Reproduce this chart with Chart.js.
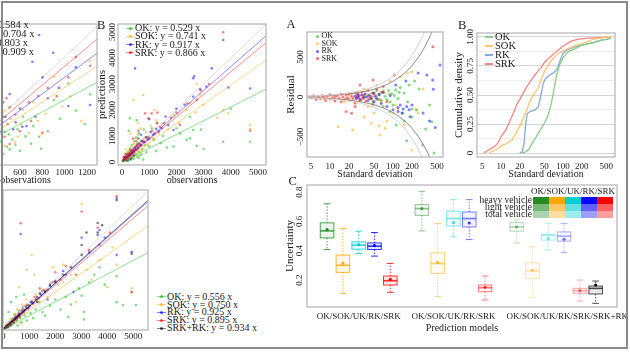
<!DOCTYPE html>
<html>
<head>
<meta charset="utf-8">
<title>Observations, residuals and uncertainty</title>
<script src="https://cdn.jsdelivr.net/npm/chart.js@4.4.1/dist/chart.umd.min.js"></script>
<style>
  html, body { margin: 0; padding: 0; background: #fff; }
  #page { position: relative; width: 630px; height: 354px; overflow: hidden; background: #fff;
    font-family: "Liberation Serif", "Times New Roman", serif; color: #1a1a1a; }
  #page canvas { position: absolute; }
  .lbl { position: absolute; white-space: nowrap; }
  .sw { position: absolute; }
  #border { position: absolute; left: 1px; top: 1px; width: 623px; height: 344px; border: 2px solid #8a8a8a; }
</style>
</head>
<body>
<div id="page">
  <canvas id="topLeft"></canvas>
  <canvas id="scatterB"></canvas>
  <canvas id="bottomLeft"></canvas>
  <canvas id="residualA"></canvas>
  <canvas id="cumulativeB"></canvas>
  <canvas id="boxC"></canvas>
</div>
<script>
// ---------- values ----------

// cropped top-left panel (observations / predictions)
const topLeftSlopes = [0.584, 0.704, 0.803, 0.909];
const topLeftTicks = [600, 800, 1000, 1200];
const topLeftOK = [[463,275],[484,130],[508,104],[450,60],[530,200],[560,150],[600,90],[628,420],[650,230],[700,160],[720,330],[772,227],[790,110],[850,280],[904,582],[960,400],[1033,743],[1100,480],[1180,350],[1228,637],[430,180],[500,250],[580,300]];
const topLeftSOK = [[440,320],[463,136],[520,400],[553,178],[583,227],[610,340],[628,485],[680,260],[720,560],[793,253],[830,450],[907,808],[980,520],[1050,620],[1228,960],[1150,380],[460,480],[760,380]];
const topLeftRK = [[433,275],[470,420],[508,640],[540,300],[562,366],[600,500],[622,324],[658,330],[712,953],[740,420],[772,1212],[802,802],[850,600],[898,1041],[1033,524],[1228,534],[950,700],[1100,900],[450,560]];
const topLeftSRK = [[448,420],[463,227],[490,350],[508,156],[508,511],[560,440],[600,280],[680,560],[763,621],[802,266],[850,700],[930,620],[1033,802],[1228,915],[1100,1000],[700,380],[480,600]];

// panel B, left half
const scatterNames = ['OK', 'SOK', 'RK', 'SRK'];
const scatterSlopes = [0.529, 0.741, 0.917, 0.866];
const scatterTicks = [0, 1000, 2000, 3000, 4000, 5000];
const scatterOK = [[60,40],[100,150],[150,60],[180,250],[200,120],[230,380],[260,200],[280,90],[300,520],[320,300],[350,180],[380,650],[400,420],[420,250],[450,800],[480,560],[500,330],[520,950],[560,700],[600,400],[620,1100],[650,250],[700,820],[750,500],[800,1250],[850,640],[900,380],[970,970],[1000,600],[1100,1300],[1170,850],[1250,420],[1420,720],[1500,1000],[1650,560],[1890,590],[2000,1300],[2130,1100],[2380,850],[2500,910],[2500,1740],[2620,1230],[2750,620],[2900,1250],[3720,780],[4000,2050],[4710,780],[3000,500],[1300,1500],[250,1200],[290,1680],[540,1610],[130,320],[210,40],[340,90],[430,130],[560,210],[610,160],[720,300],[780,90]];
const scatterSOK = [[50,80],[90,30],[120,200],[160,120],[200,350],[240,180],[270,450],[300,260],[330,600],[360,380],[400,150],[420,2390],[440,700],[470,480],[500,900],[530,300],[580,1050],[620,620],[680,1300],[720,450],[780,2580],[800,900],[880,1150],[950,650],[1050,1400],[1150,900],[1250,1600],[1350,1100],[1500,1450],[1700,1250],[1900,1800],[2100,1500],[2380,2000],[2500,2260],[2700,1900],[2870,2600],[3000,2200],[3720,2000],[3910,1870],[3500,1700],[4710,1420],[4710,1270],[2750,3000],[1200,2000],[600,1500],[300,1100],[180,60],[260,330],[380,240],[520,610],[650,380],[150,480]];
const scatterRK = [[40,60],[80,120],[120,90],[150,200],[190,160],[220,280],[250,220],[280,330],[310,250],[340,400],[370,320],[400,460],[430,380],[460,540],[480,3600],[500,460],[540,620],[580,520],[620,700],[680,640],[730,800],[800,760],[880,950],[950,880],[1050,1150],[1150,1050],[1250,1280],[1350,1180],[1460,1300],[1700,1420],[1890,1230],[2000,2050],[2300,2200],[2620,2510],[2620,3220],[2650,3300],[2870,2800],[3100,2900],[3720,4690],[3910,2870],[4710,2830],[3300,3600],[1600,1750],[1000,1650],[700,1050],[90,210],[200,60],[330,130],[450,240],[600,900]];
const scatterSRK = [[30,50],[70,90],[100,140],[130,110],[170,220],[200,180],[230,300],[260,240],[290,350],[320,280],[350,420],[380,360],[420,500],[450,410],[490,580],[520,470],[560,650],[600,560],[650,720],[700,640],[760,820],[850,1870],[970,1680],[1090,1870],[820,780],[900,960],[1000,900],[1100,1200],[1200,1100],[1280,1490],[1400,1350],[1550,1500],[1800,1700],[2130,1420],[2400,2250],[2750,2390],[2900,2750],[3200,3000],[3720,4990],[4710,1200],[1300,1900],[600,1200],[400,900],[2000,1900],[60,180],[150,300],[240,120],[310,470],[410,280],[530,790]];

// bottom-left panel
const bottomNames = ['OK', 'SOK', 'RK', 'SRK', 'SRK+RK'];
const bottomSlopes = [0.556, 0.750, 0.925, 0.895, 0.934];
const bottomOK = [[60,40],[120,180],[180,80],[240,300],[300,150],[350,450],[400,250],[450,600],[500,350],[550,150],[600,750],[650,450],[700,280],[760,900],[820,560],[900,350],[950,1000],[1050,650],[1150,450],[1250,800],[1350,1100],[1500,700],[1600,550],[1800,950],[2000,1200],[2200,800],[2400,1300],[2600,1000],[2900,1650],[3015,1350],[3100,700],[3300,1900],[3500,2200],[3700,2500],[3900,1800],[4360,2137],[4360,1095],[4600,980],[5100,980],[3100,400],[2500,500],[300,1100],[500,1300],[200,700],[800,1400]];
const bottomSOK = [[80,60],[150,250],[220,120],[280,400],[350,220],[420,600],[480,350],[540,800],[600,500],[660,250],[720,1000],[800,650],[880,1200],[950,800],[1092,2996],[1150,1000],[1250,1400],[1400,1100],[1550,1600],[1700,1300],[1900,2500],[2100,1800],[2300,2600],[2300,1900],[2600,2200],[2800,1100],[3015,5052],[3200,2400],[3400,2000],[3700,2800],[4000,1700],[4200,3300],[4360,2600],[4938,1650],[4938,1500],[600,1700],[1200,2200],[900,2400]];
const bottomRK = [[50,30],[100,110],[160,80],[210,200],[270,160],[330,320],[390,260],[450,470],[510,400],[570,600],[630,520],[670,3843],[700,760],[780,700],[860,930],[950,850],[1050,1100],[1150,1050],[1300,1300],[1450,1400],[1600,1550],[1800,1750],[2000,1900],[2300,2350],[2700,1500],[3015,3700],[3300,3100],[3630,3800],[3700,4000],[3900,3700],[4360,5290],[4360,3000],[4938,3129],[1700,1200],[2400,2200]];
const bottomSRK = [[40,50],[90,70],[140,160],[190,130],[250,260],[300,220],[360,380],[420,330],[480,520],[540,460],[600,660],[670,4274],[660,600],[740,820],[820,760],[900,980],[1000,900],[1100,1150],[1200,1300],[1350,1250],[1500,1550],[1700,1600],[1900,1900],[2200,2000],[2400,2550],[2800,2200],[3015,4750],[3300,3200],[3630,4100],[3700,3400],[4100,3900],[4360,5375],[4938,1500],[1400,1650],[2000,2300]];
const bottomSRKRK = [[30,20],[80,60],[130,100],[180,150],[230,200],[280,240],[330,300],[380,330],[430,400],[480,440],[530,500],[580,540],[630,600],[700,650],[760,720],[830,780],[900,860],[1000,950],[1100,1080],[1250,1200],[1400,1450],[1600,1500],[1800,1800],[2000,1950],[2300,2200],[2600,2500],[3015,3400],[3015,3000],[3200,3900],[3630,4285],[3630,3900],[3800,4200],[4360,5210],[4938,3050],[1300,1100]];

// panel A: residual against standard deviation
const sdTicks = [5, 10, 20, 50, 100, 200, 500];
const residualTicks = [-500, 0, 500];
const envelopeSd = [4.3, 5, 6, 7, 8, 10, 12, 15, 20, 25, 30, 40, 50, 60, 70, 85, 100, 120, 150, 180, 200, 250, 300, 350, 400, 450];
const envelopeInner = [8.4, 9.8, 11.8, 13.7, 15.7, 19.6, 23.5, 29.4, 39.2, 49, 58.8, 78.4, 98, 117.6, 137.2, 166.6, 196, 235.2, 294, 352.8, 392, 490, 588, 686, 784, 882];
const envelopeOuter = [11.1, 12.9, 15.5, 18.1, 20.6, 25.8, 31, 38.7, 51.6, 64.5, 77.4, 103.2, 129, 154.8, 180.6, 219.3, 258, 309.6, 387, 464.4, 516, 645, 774, 903, 1032, 1161];
const residualOK = [[35,0],[40,20],[45,-20],[50,50],[55,-10],[60,30],[65,-40],[70,60],[75,10],[80,-30],[85,80],[90,-60],[95,40],[100,-100],[110,90],[112,-350],[120,-20],[130,120],[140,-200],[150,50],[165,-546],[180,150],[200,-150],[237,-162],[260,100],[296,-600],[330,-400],[380,-100],[411,-309],[450,-700],[150,-300],[200,-250],[90,-180],[70,-120],[55,80],[48,-60],[105,20],[125,60],[170,-60],[220,200]];
const residualSOK = [[8,-20],[10,15],[12,-30],[13.5,-371],[15,40],[17,-60],[20,30],[23,-412],[25,-80],[28,60],[30,-30],[35,100],[40,-120],[45,50],[50,-200],[55,150],[62,-475],[70,80],[80,-300],[90,200],[101,-204],[110,-100],[130,250],[150,-350],[198,316],[198,-662],[250,-200],[300,100],[35,-250],[45,-330],[60,-360],[75,-390],[18,-20],[22,40],[26,-10],[33,20],[40,30],[48,-40],[55,10],[65,-60],[85,40],[120,-150],[170,300],[230,-150]];
const residualRK = [[25,10],[26,-20],[27,30],[28,-5],[29,15],[30,-30],[32,25],[34,-10],[36,40],[38,0],[40,-45],[42,20],[45,-15],[48,50],[50,-60],[52,10],[55,-25],[60,30],[65,-80],[70,60],[80,-120],[90,20],[100,-160],[110,150],[120,-180],[130,-100],[145,-150],[160,200],[186,-246],[200,-100],[250,300],[300,-200],[345,275],[380,-300],[427,212],[437,96],[470,-380],[557,400],[120,-130],[140,-200],[165,-120],[180,-160]];
const residualSRK = [[5,-10],[5.5,15],[6,-30],[6.5,5],[7,-20],[7.5,20],[8,-5],[8.5,-40],[9,10],[10,-25],[10,30],[11,-10],[12,5],[12,-50],[13,20],[14,-15],[15,35],[15,-60],[16,0],[17,-30],[18,25],[19,-10],[20,40],[20,-35],[22,10],[23,-20],[25,50],[25,-70],[27,0],[28,30],[30,-40],[32,60],[33,-15],[35,20],[37,-50],[40,80],[42,-20],[45,10],[48,-90],[50,40],[55,100],[60,-30],[65,60],[22,-204],[48,212],[105,275],[70,130],[80,-60],[430,629],[25,-120],[18,-180],[30,150]];

// panel B: cumulative density of the standard deviation
const densityTicks = [0, 0.125, 0.25, 0.375, 0.5, 0.625, 0.75, 0.875, 1];
const densityLabels = ['0', '', '0.25', '', '0.50', '', '0.75', '', '1.00'];
const cumOK = [[22,0],[25,0.01],[28,0.03],[30,0.06],[33,0.1],[37,0.14],[42,0.19],[48,0.24],[55,0.3],[60,0.36],[65,0.43],[70,0.52],[75,0.61],[80,0.68],[88,0.76],[100,0.82],[115,0.86],[130,0.88],[160,0.9],[200,0.93],[250,0.94],[300,0.95],[400,0.97],[500,0.98],[600,0.99]];
const cumSOK = [[6.5,0],[7.5,0.02],[9,0.04],[10,0.06],[12,0.08],[15,0.11],[17,0.16],[20,0.23],[23,0.3],[26,0.37],[30,0.46],[35,0.52],[40,0.56],[45,0.64],[50,0.7],[60,0.77],[70,0.82],[85,0.86],[100,0.88],[150,0.92],[200,0.94],[250,0.96],[300,0.98],[400,0.99],[500,1],[600,1]];
const cumRK = [[20,0],[22,0.01],[23.5,0.08],[25,0.25],[26.5,0.34],[30,0.36],[35,0.37],[40,0.4],[44,0.5],[48,0.6],[52,0.64],[60,0.67],[70,0.69],[80,0.72],[90,0.8],[100,0.86],[120,0.89],[150,0.91],[200,0.93],[300,0.95],[400,0.97],[500,0.98],[600,0.99]];
const cumSRK = [[5.3,0],[6,0.02],[7,0.04],[8,0.06],[9,0.09],[10,0.14],[12,0.2],[14,0.28],[16,0.35],[18,0.42],[20,0.46],[23,0.52],[26,0.57],[30,0.62],[35,0.67],[40,0.71],[45,0.74],[50,0.78],[60,0.82],[70,0.85],[80,0.88],[100,0.92],[130,0.96],[170,0.98],[250,0.99],[400,0.995],[600,1]];

// panel C: uncertainty, each row is [low whisker, q1, median, q3, high whisker, mean]
const boxModels = ['OK', 'SOK', 'UK', 'RK', 'SRK'];
const boxGroupTicks = [3, 9, 16.2];
const boxGroupLabels = ['OK/SOK/UK/RK/SRK', 'OK/SOK/UK/RK/SRK', 'OK/SOK/UK/RK/SRK/SRK+RK'];
const uncertaintyTicks = [0.2, 0.4, 0.6, 0.8];
const heavyPos = [1, 2, 3, 4, 5];
const lightPos = [7, 8, 9, 10, 11];
const totalPos = [13, 14, 15, 16, 17];
const srkRkPos = [18];
const heavyStats = [
  [0.408, 0.487, 0.535, 0.59, 0.72, 0.544],
  [0.109, 0.252, 0.30, 0.37, 0.551, 0.313],
  [0.381, 0.41, 0.438, 0.46, 0.533, 0.442],
  [0.363, 0.408, 0.431, 0.453, 0.524, 0.435],
  [0.116, 0.166, 0.195, 0.227, 0.313, 0.204]
];
const lightStats = [
  [0.535, 0.641, 0.687, 0.714, 0.805, 0.687],
  [0.087, 0.245, 0.313, 0.386, 0.585, 0.32],
  [0.494, 0.569, 0.619, 0.669, 0.748, 0.592],
  [0.476, 0.562, 0.619, 0.664, 0.748, 0.589],
  [0.064, 0.12, 0.148, 0.166, 0.227, 0.15]
];
const totalStats = [
  [0.453, 0.533, 0.562, 0.592, 0.61, 0.562],
  [0.08, 0.211, 0.263, 0.318, 0.426, 0.268],
  [0.404, 0.472, 0.505, 0.512, 0.585, 0.483],
  [0.388, 0.465, 0.499, 0.528, 0.585, 0.478],
  [0.057, 0.109, 0.127, 0.143, 0.2, 0.127]
];
const srkRkStats = [[0.041, 0.105, 0.143, 0.159, 0.193, 0.166]];
const vehicleRows = ['heavy vehicle', 'light vehicle', 'total vehicle'];

// ---------- styling ----------
const green = [0, 190, 0], orange = [255, 165, 0], blue = [0, 0, 255], red = [255, 0, 0], black = [0, 0, 0];
const modelRgb = [green, orange, blue, red, black];
const boxRgb = [[34, 139, 34], [255, 165, 0], [0, 206, 209], [0, 0, 255], [255, 0, 0]];
const cumColors = ['#84cf84', '#ffc46e', '#86a9de', '#f28585'];

Chart.defaults.font.family = '"Liberation Serif", "Times New Roman", serif';
Chart.defaults.color = '#1a1a1a';

const rgba = (c, a) => 'rgba(' + c.join(',') + ',' + a + ')';
const pts = arr => arr.map(p => ({ x: p[0], y: p[1] }));

// rotated y tick labels (R style), keyed by canvas id
const yTickText = {
  scatterB: scatterTicks.map(String),
  residualA: residualTicks.map(v => String(v).replace('-', '\u2212')),
  cumulativeB: densityLabels,
  boxC: uncertaintyTicks.map(String)
};
const yTickGap = { scatterB: 3, residualA: 4, cumulativeB: 4, boxC: 5 };

const rFrame = {
  id: 'rFrame',
  afterDraw(chart) {
    const { ctx, chartArea: a } = chart;
    const id = chart.canvas.id;
    ctx.save();
    ctx.strokeStyle = '#b9b9b9';
    ctx.lineWidth = 1.3;
    ctx.strokeRect(a.left, a.top, a.right - a.left, a.bottom - a.top);
    const labels = yTickText[id];
    if (labels) {
      const ys = chart.scales.y;
      ctx.fillStyle = '#1a1a1a';
      ctx.font = '9px "Liberation Serif", serif';
      ctx.textAlign = 'center';
      ctx.textBaseline = 'alphabetic';
      ys.ticks.forEach((t, i) => {
        if (!labels[i]) return;
        ctx.save();
        ctx.translate(a.left - yTickGap[id], ys.getPixelForValue(t.value));
        ctx.rotate(-Math.PI / 2);
        ctx.fillText(labels[i], 0, 0);
        ctx.restore();
      });
    }
    ctx.restore();
  }
};

// boxes + whiskers for datasets carrying `stats`; the mean dots are the dataset points
const boxPlot = {
  id: 'boxPlot',
  beforeDatasetsDraw(chart) {
    const { ctx, scales: { x, y } } = chart;
    chart.data.datasets.forEach(ds => {
      if (!ds.stats) return;
      ds.stats.forEach((s, i) => {
        const pos = ds.data[i].x;
        const cx = x.getPixelForValue(pos);
        const half = x.getPixelForValue(pos + 0.43) - cx;
        const cap = half * 0.5;
        const [lo, q1, med, q3, hi] = s.map(v => y.getPixelForValue(v));
        ctx.save();
        ctx.strokeStyle = ds.boxLine[i];
        ctx.lineWidth = 1;
        ctx.setLineDash([1.5, 1.5]);
        ctx.beginPath();
        ctx.moveTo(cx, q3); ctx.lineTo(cx, hi);
        ctx.moveTo(cx, q1); ctx.lineTo(cx, lo);
        ctx.stroke();
        ctx.setLineDash([]);
        ctx.beginPath();
        ctx.moveTo(cx - cap, hi); ctx.lineTo(cx + cap, hi);
        ctx.moveTo(cx - cap, lo); ctx.lineTo(cx + cap, lo);
        ctx.stroke();
        ctx.fillStyle = ds.boxFill[i];
        ctx.fillRect(cx - half, q3, 2 * half, q1 - q3);
        ctx.strokeRect(cx - half, q3, 2 * half, q1 - q3);
        ctx.lineWidth = 1.6;
        ctx.beginPath();
        ctx.moveTo(cx - half, med); ctx.lineTo(cx + half, med);
        ctx.stroke();
        ctx.restore();
      });
    });
  }
};

Chart.register(rFrame, boxPlot);

function axis(o, horizontal, size) {
  return {
    type: o.type || 'linear',
    min: o.min,
    max: o.max,
    grid: o.grid || { display: false, drawTicks: false },
    border: { display: false },
    afterBuildTicks: s => { s.ticks = o.ticks.map(v => ({ value: v })); },
    afterFit: s => {
      if (horizontal) { s.height = size; s.paddingLeft = 0; s.paddingRight = 0; }
      else { s.width = size; s.paddingTop = 0; s.paddingBottom = 0; }
    },
    ticks: {
      display: horizontal && o.showTicks !== false,
      autoSkip: false, maxRotation: 0, minRotation: 0,
      padding: o.pad || 0,
      font: { size: 9 },
      callback: (v, i) => (o.labels ? o.labels[i] : String(v))
    },
    title: { display: !!o.title, text: o.title || '', font: { size: horizontal ? 10 : 11 }, padding: 0 }
  };
}

// box = plot area in page pixels, m = margins around it for axes
function makeChart(id, box, m, datasets, xo, yo) {
  const c = document.getElementById(id);
  c.width = box.r - box.l + m.l + m.r;
  c.height = box.b - box.t + m.t + m.b;
  c.style.left = (box.l - m.l) + 'px';
  c.style.top = (box.t - m.t) + 'px';
  return new Chart(c, {
    type: 'scatter',
    data: { datasets },
    options: {
      responsive: false,
      animation: false,
      devicePixelRatio: 1,
      events: [],
      layout: { padding: { left: 0, top: m.t, right: m.r, bottom: 0 } },
      plugins: { legend: { display: false }, tooltip: { enabled: false } },
      scales: { x: axis(xo, true, m.b), y: axis(yo, false, m.l) }
    }
  });
}

function dotSet(arr, c, a, r) {
  return { data: pts(arr), pointRadius: r, pointHoverRadius: r, pointBorderWidth: 0,
    pointBackgroundColor: rgba(c, a), order: 2 };
}
function fitSet(slope, color, xMax) {
  return { data: [{ x: 0, y: 0 }, { x: xMax, y: slope * xMax }], showLine: true,
    borderColor: color, borderWidth: 1, pointRadius: 0, order: 1 };
}
function curveSet(xs, ys, color, width) {
  return { data: xs.map((x, i) => ({ x, y: ys[i] })), showLine: true,
    borderColor: color, borderWidth: width, pointRadius: 0, order: 1 };
}
function boxSet(pos, stats, rgbs, a) {
  return {
    data: pos.map((p, i) => ({ x: p, y: stats[i][5] })),
    stats,
    boxLine: rgbs.map(c => rgba(c, a)),
    boxFill: rgbs.map(c => rgba(c, a * 0.12)),
    pointRadius: 1.6, pointHoverRadius: 1.6, pointBorderWidth: 0,
    pointBackgroundColor: rgbs.map(c => rgba(c, Math.min(1, a + 0.25)))
  };
}

// ---------- charts ----------
const topLeftSeries = [topLeftOK, topLeftSOK, topLeftRK, topLeftSRK];
makeChart('topLeft', { l: -46, t: 24, r: 97, b: 165 }, { l: 22, t: 4, r: 4, b: 21 },
  [fitSet(1, 'rgba(0,0,0,0.14)', 1290)]
    .concat(topLeftSlopes.map((k, i) => fitSet(k, rgba(modelRgb[i], 0.45), 1290)))
    .concat(topLeftSeries.map((s, i) => dotSet(s, modelRgb[i], 0.5, 1.3))),
  { min: 10, max: 1290, ticks: topLeftTicks, pad: 2, title: 'observations' },
  { min: -47, max: 1319, ticks: [0, 500, 1000], title: 'predictions' });

const scatterSeries = [scatterOK, scatterSOK, scatterRK, scatterSRK];
makeChart('scatterB', { l: 118, t: 24, r: 266, b: 165 }, { l: 22, t: 4, r: 4, b: 21 },
  [fitSet(1, 'rgba(0,0,0,0.14)', 5294)]
    .concat(scatterSlopes.map((k, i) => fitSet(k, rgba(modelRgb[i], 0.45), 5294)))
    .concat(scatterSeries.map((s, i) => dotSet(s, modelRgb[i], 0.5, 1.3)).reverse()),
  { min: -147, max: 5294, ticks: scatterTicks, pad: 2, title: 'observations' },
  { min: -115, max: 5308, ticks: scatterTicks, title: 'predictions' });

const bottomSeries = [bottomOK, bottomSOK, bottomRK, bottomSRK, bottomSRKRK];
makeChart('bottomLeft', { l: 3, t: 190, r: 148, b: 330 }, { l: 22, t: 4, r: 4, b: 20 },
  [fitSet(1, 'rgba(0,0,0,0.14)', 5565)]
    .concat(bottomSlopes.map((k, i) => fitSet(k, rgba(modelRgb[i], i === 4 ? 0.55 : 0.45), 5565)))
    .concat(bottomSeries.map((s, i) => dotSet(s, modelRgb[i], 0.5, 1.3)).reverse()),
  { min: -12, max: 5565, ticks: scatterTicks, pad: 1.5 },
  { min: -28, max: 5617, ticks: scatterTicks });

const residualSeries = [residualOK, residualSOK, residualRK, residualSRK];
makeChart('residualA', { l: 307, t: 32, r: 443, b: 157 }, { l: 22, t: 4, r: 4, b: 23 },
  [
    curveSet(envelopeSd, envelopeOuter, '#d2d2d2', 1),
    curveSet(envelopeSd, envelopeOuter.map(v => -v), '#d2d2d2', 1),
    curveSet(envelopeSd, envelopeInner, '#8e8e8e', 1),
    curveSet(envelopeSd, envelopeInner.map(v => -v), '#8e8e8e', 1)
  ].concat([3, 2, 1, 0].map(i => dotSet(residualSeries[i], modelRgb[i], 0.5, 1.5))),
  { type: 'logarithmic', min: 4.31, max: 622, ticks: sdTicks, pad: 4.5, title: 'Standard deviation' },
  { min: -750, max: 812, ticks: residualTicks, title: 'Residual' });

const cumSeries = [cumOK, cumSOK, cumRK, cumSRK];
makeChart('cumulativeB', { l: 477, t: 33, r: 615, b: 157 }, { l: 24, t: 4, r: 10, b: 23 },
  cumSeries.map((s, i) => curveSet(s.map(p => p[0]), s.map(p => p[1]), cumColors[i], 1.3)),
  { type: 'logarithmic', min: 4.1, max: 690, ticks: sdTicks, pad: 4.5, title: 'Standard deviation' },
  { min: -0.034, max: 1.034, ticks: densityTicks, title: 'Cumulative density',
    grid: { display: true, drawTicks: false, lineWidth: 1,
      color: c => (c.tick && c.tick.value % 0.25 === 0 ? '#d5d5d5' : '#eeeeee') } });

makeChart('boxC', { l: 307, t: 185, r: 617, b: 307 }, { l: 23, t: 4, r: 13, b: 27 },
  [
    boxSet(heavyPos, heavyStats, boxRgb, 0.8),
    boxSet(lightPos, lightStats, boxRgb, 0.5),
    boxSet(totalPos, totalStats, boxRgb, 0.32),
    boxSet(srkRkPos, srkRkStats, [[0, 0, 0]], 0.7)
  ],
  { min: -0.27, max: 19.35, ticks: boxGroupTicks, labels: boxGroupLabels, pad: 4.5, title: 'Prediction models' },
  { min: 0.016, max: 0.848, ticks: uncertaintyTicks, title: 'Uncertainty' });

// ---------- letters and legends (html text) ----------
const page = document.getElementById('page');

function label(text, x, cy, size, right) {
  const d = document.createElement('div');
  d.className = 'lbl';
  d.textContent = text;
  d.style.fontSize = size + 'px';
  d.style.lineHeight = (size * 1.2) + 'px';
  d.style.top = (cy - size * 0.61) + 'px';
  if (right) d.style.right = (630 - x) + 'px';
  else d.style.left = x + 'px';
  page.appendChild(d);
}
function swatch(x, y, w, h, color, round) {
  const d = document.createElement('div');
  d.className = 'sw';
  Object.assign(d.style, { left: x + 'px', top: y + 'px', width: w + 'px', height: h + 'px',
    background: color, borderRadius: round ? '50%' : '0' });
  page.appendChild(d);
}
function lineKey(x, cy, len, c) {
  swatch(x, cy - 0.5, len, 1, rgba(c, 0.5));
  swatch(x + len / 2 - 1.5, cy - 1.5, 3, 3, rgba(c, 0.7), true);
}

label('A', 286.5, 25, 12.5);
label('B', 97, 26, 12.5);
label('B', 458, 26, 12.5);
label('C', 288.5, 182, 12.5);

// cropped legend of the top-left panel
topLeftSlopes.forEach((k, i) => {
  label(scatterNames[i] + ': y = ' + k.toFixed(3) + ' x', -40, 25 + i * 9, 10.5);
});

scatterSlopes.forEach((k, i) => {
  const cy = 28.3 + i * 8.2;
  lineKey(126, cy, 8, modelRgb[i]);
  label(scatterNames[i] + ': y = ' + k.toFixed(3) + ' x', 135, cy, 10);
});

bottomSlopes.forEach((k, i) => {
  const cy = 296.7 + i * 7.9;
  lineKey(157, cy, 9, modelRgb[i]);
  label(bottomNames[i] + ': y = ' + k.toFixed(3) + ' x', 167, cy, 10);
});

scatterNames.forEach((n, i) => {
  const cy = 36 + i * 7.5;
  swatch(315.5, cy - 1.5, 3, 3, rgba(modelRgb[i], 0.6), true);
  label(n, 321.5, cy, 8);
});

scatterNames.forEach((n, i) => {
  const cy = 37 + i * 9;
  swatch(485, cy - 0.6, 8, 1.3, cumColors[i]);
  label(n, 495, cy, 10.5);
});

// panel C key: one column per model, one row per vehicle class
label(boxModels.join('/'), 531, 191.5, 9);
vehicleRows.forEach((row, r) => {
  const top = 197 + r * 7;
  label(row, 532, top + 3.6, 9.5, true);
  boxRgb.forEach((c, i) => swatch(533 + i * 16, top, 16, 7, rgba(c, [1, 0.62, 0.38][r])));
});

const border = document.createElement('div');
border.id = 'border';
page.appendChild(border);
</script>
</body>
</html>
